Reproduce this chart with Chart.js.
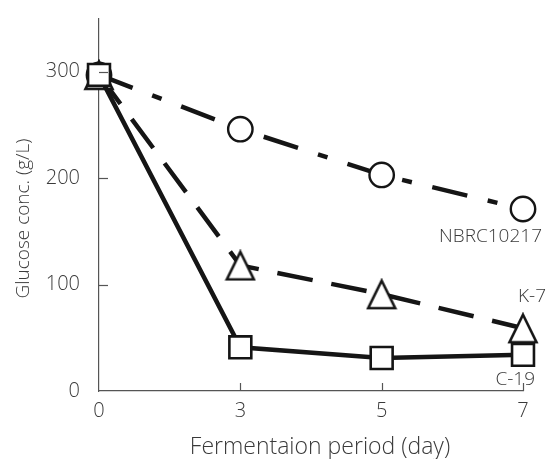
<!DOCTYPE html>
<html>
<head>
<meta charset="utf-8">
<script src="https://cdn.jsdelivr.net/npm/chart.js@4"></script>
<style>
html,body{margin:0;padding:0;background:#fff;}
canvas{display:block;}
</style>
</head>
<body>
<canvas id="c" width="548" height="459"></canvas>
<script>
const days = ['0', '3', '5', '7'];
const nbrc10217 = [297, 246, 203, 171];
const k7 = [297, 118, 91, 59];
const c19 = [297, 41, 31, 34];
const yTickValues = [0, 100, 200, 300];
const seriesNames = ['C-19', 'K-7', 'NBRC10217'];
const xTitle = 'Fermentaion period (day)';
const yTitle = 'Glucose conc. (g/L)';

const FONT = '"Open Sans", "Noto Sans", sans-serif';
const INK = '#151515';
const TEXT = '#3a3a3a';
const AXIS = '#555';

function makeTriangle() {
  const cv = document.createElement('canvas');
  cv.width = 32; cv.height = 32;
  const g = cv.getContext('2d');
  g.beginPath();
  g.moveTo(16, 2.5);
  g.lineTo(29.5, 30);
  g.lineTo(2.5, 30);
  g.closePath();
  g.fillStyle = '#fff';
  g.fill();
  g.lineWidth = 2.6;
  g.lineJoin = 'miter';
  g.strokeStyle = INK;
  g.stroke();
  return cv;
}
const tri = makeTriangle();

const decor = {
  id: 'decor',
  afterDraw(chart) {
    const ctx = chart.ctx;
    const xs = chart.scales.x, ys = chart.scales.y;
    const area = chart.chartArea;
    ctx.save();
    // inward tick marks
    ctx.strokeStyle = AXIS;
    ctx.lineWidth = 1.2;
    xs.ticks.forEach((t, i) => {
      if (i === 0) return;
      const px = Math.round(xs.getPixelForTick(i)) + 0.5;
      ctx.beginPath();
      ctx.moveTo(px, area.bottom);
      ctx.lineTo(px, area.bottom - 8);
      ctx.stroke();
    });
    yTickValues.forEach(v => {
      if (v === 0) return;
      const py = Math.round(ys.getPixelForValue(v)) + 0.5;
      ctx.beginPath();
      ctx.moveTo(area.left, py);
      ctx.lineTo(area.left + 9, py);
      ctx.stroke();
    });
    // axis titles
    ctx.fillStyle = TEXT;
    ctx.textAlign = 'center';
    ctx.textBaseline = 'middle';
    ctx.font = '300 23px ' + FONT;
    ctx.fillText(xTitle, 320, 447);
    ctx.save();
    ctx.translate(24, 218.5);
    ctx.rotate(-Math.PI / 2);
    ctx.font = '300 19px ' + FONT;
    ctx.fillText(yTitle, 0, 0);
    ctx.restore();
    // series labels near last points
    const offs = {
      'NBRC10217': [19, 28],
      'K-7': [23, -32],
      'C-19': [12, 25]
    };
    ctx.font = '300 19px ' + FONT;
    ctx.textAlign = 'right';
    chart.data.datasets.forEach((ds, di) => {
      const meta = chart.getDatasetMeta(di);
      const last = meta.data[meta.data.length - 1];
      const o = offs[ds.label];
      ctx.fillText(ds.label, last.x + o[0], last.y + o[1]);
    });
    ctx.restore();
  }
};

new Chart(document.getElementById('c'), {
  type: 'line',
  data: {
    labels: days,
    datasets: [
      {
        label: seriesNames[0],
        data: c19,
        borderColor: INK,
        borderWidth: 4.5,
        pointStyle: 'rect',
        pointRadius: 15.5,
        pointBorderWidth: 2.6,
        pointBorderColor: INK,
        pointBackgroundColor: '#fff',
        tension: 0,
        clip: false
      },
      {
        label: seriesNames[1],
        data: k7,
        borderColor: INK,
        borderWidth: 4.5,
        borderDash: [36, 19],
        pointStyle: tri,
        pointRadius: 14,
        pointBorderColor: INK,
        pointBackgroundColor: '#fff',
        tension: 0,
        clip: false
      },
      {
        label: seriesNames[2],
        data: nbrc10217,
        borderColor: INK,
        borderWidth: 4.5,
        borderDash: [36, 21, 10, 21],
        pointStyle: 'circle',
        pointRadius: 12.2,
        pointBorderWidth: 2.4,
        pointBorderColor: INK,
        pointBackgroundColor: '#fff',
        tension: 0,
        clip: false
      }
    ]
  },
  options: {
    responsive: false,
    devicePixelRatio: 1,
    animation: false,
    layout: { padding: { top: 13, right: 25, left: 0, bottom: 0 } },
    plugins: {
      legend: { display: false },
      tooltip: { enabled: false },
      title: { display: false }
    },
    scales: {
      x: {
        type: 'category',
        offset: false,
        grid: { display: false, drawTicks: false },
        border: { display: true, color: AXIS, width: 1.2 },
        ticks: { color: TEXT, font: { family: FONT, size: 20, weight: '300' }, padding: 8, maxRotation: 0 },
        afterFit(s) { s.height = 68; s.paddingLeft = 0; s.paddingRight = 0; }
      },
      y: {
        min: 0,
        max: 350,
        afterBuildTicks(s) { s.ticks = yTickValues.map(v => ({ value: v })); },
        grid: { display: false, drawTicks: false },
        border: { display: true, color: AXIS, width: 1.2 },
        ticks: { color: TEXT, font: { family: FONT, size: 20, weight: '300' }, padding: 19 },
        afterFit(s) { s.width = 99; s.paddingTop = 0; s.paddingBottom = 0; }
      }
    }
  },
  plugins: [decor]
});
</script>
</body>
</html>
